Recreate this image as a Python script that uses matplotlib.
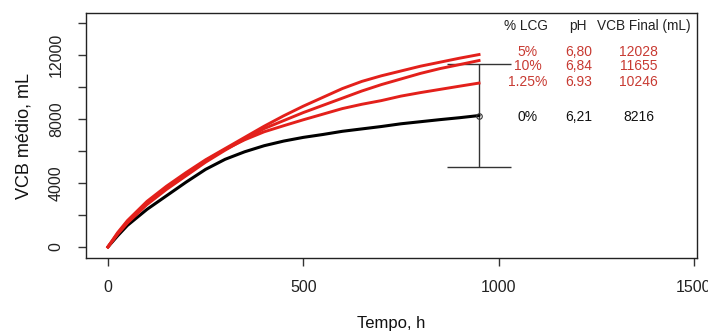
import matplotlib
matplotlib.use("Agg")
import matplotlib.pyplot as plt

plt.rcParams['font.family'] = ['Liberation Sans', 'DejaVu Sans']

# Data
tempo = [0, 25, 50, 100, 150, 200, 250, 300, 350, 400, 450, 500, 550, 600, 650, 700, 750, 800, 850, 900, 950]
vcb_0 = [0, 700, 1350, 2350, 3200, 4050, 4850, 5480, 5950, 6330, 6620, 6850, 7030, 7230, 7380, 7530, 7700, 7830, 7960, 8080, 8216]
vcb_5 = [0, 900, 1650, 2850, 3800, 4650, 5450, 6150, 6850, 7550, 8200, 8800, 9350, 9900, 10350, 10700, 11000, 11300, 11550, 11800, 12028]
vcb_10 = [0, 800, 1500, 2650, 3600, 4450, 5300, 6050, 6750, 7400, 7900, 8400, 8850, 9300, 9750, 10150, 10500, 10850, 11150, 11400, 11655]
vcb_125 = [0, 850, 1550, 2750, 3700, 4550, 5400, 6100, 6700, 7200, 7580, 7950, 8300, 8650, 8920, 9150, 9430, 9650, 9850, 10050, 10246]

err_x = 950
err_low = 5000
err_high = 11440

header = ["% LCG", "pH", "VCB Final (mL)"]
lcg_labels = ["5%", "10%", "1.25%", "0%"]
ph_labels = ["6,80", "6,84", "6.93", "6,21"]
final_labels = ["12028", "11655", "10246", "8216"]
row_y = [12190, 11310, 10310, 8125]
row_colors = ["#c83a32", "#c83a32", "#c83a32", "#111111"]
col_x = [1074, 1204, 1358]
header_x = [1069, 1204, 1372]
header_y = 13810

yticks = [0, 2000, 4000, 6000, 8000, 10000, 12000, 14000]
ytick_labels = ["0", "", "4000", "", "8000", "", "12000", ""]
xticks = [0, 500, 1000, 1500]
xtick_labels = ["0", "500", "1000", "1500"]

fig = plt.figure(figsize=(7.08, 3.31), dpi=100)
ax = fig.add_axes([0.1215, 0.2205, 0.863, 0.7402])

red = "#e3201b"
ax.plot(tempo, vcb_0, color="black", lw=2.2, solid_capstyle="round", zorder=3)
ax.plot(tempo, vcb_125, color=red, lw=2.1, zorder=4)
ax.plot(tempo, vcb_10, color=red, lw=2.1, zorder=4)
ax.plot(tempo, vcb_5, color=red, lw=2.1, zorder=4)

mid = (err_low + err_high) / 2
ax.errorbar([err_x], [mid], yerr=[[mid - err_low], [err_high - mid]], fmt="none",
            ecolor="#333333", elinewidth=1.0, capsize=23, capthick=1.0, zorder=2)
ax.plot([tempo[-1]], [vcb_0[-1]], marker="o", ms=4, mfc="none", mec="#333333", mew=0.8, zorder=5)

for hx, h in zip(header_x, header):
    ax.text(hx, header_y, h, ha="center", va="center", fontsize=9.8, color="#222222")
for i in range(len(lcg_labels)):
    for cx, lab in zip(col_x, [lcg_labels[i], ph_labels[i], final_labels[i]]):
        ax.text(cx, row_y[i], lab, ha="center", va="center", fontsize=10, color=row_colors[i])

ax.set_xlim(-56, 1508)
ax.set_ylim(-690, 14625)
ax.set_yticks(yticks)
ax.set_yticklabels(ytick_labels, rotation=90, va="center", fontsize=11.5, color="#222222")
ax.set_xticks(xticks)
ax.set_xticklabels(xtick_labels, fontsize=11.5, color="#222222")
ax.tick_params(axis="both", direction="out", length=6, width=1, color="#333333")
ax.tick_params(axis="x", pad=10)
ax.tick_params(axis="y", pad=10)
for s in ax.spines.values():
    s.set_linewidth(1.0)
    s.set_color("#222222")

ax.set_xlabel("Tempo, h", fontsize=12, labelpad=15, color="#111111")
ax.set_ylabel("VCB médio, mL", fontsize=13, labelpad=12, color="#111111")

fig.savefig("out.png", dpi=100)
